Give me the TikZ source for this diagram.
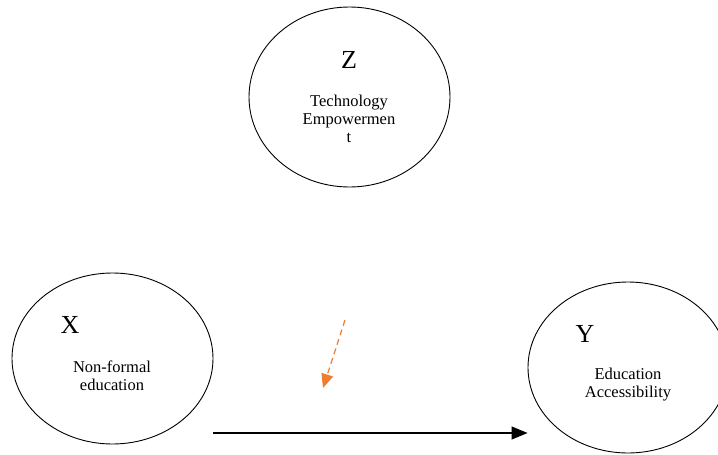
\documentclass[tikz,border=0pt]{standalone}
\usepackage{fontspec}
\setmainfont{Liberation Serif}
\usetikzlibrary{shapes.geometric,arrows.meta}
\definecolor{moderator}{HTML}{ED7D31}

\begin{document}
\begin{tikzpicture}[x=1pt,y=-1pt,>={Triangle[length=16pt,width=13pt]},
  var/.style={draw,ellipse,line width=0.9pt,inner sep=0pt},
  letter/.style={font=\fontsize{26}{26}\selectfont,inner sep=0pt,anchor=base},
  desc/.style={font=\fontsize{16.5}{18}\selectfont,align=center,inner sep=0pt}]
\useasboundingbox (0,0) rectangle (718,455);
\node[var, minimum width=201pt, minimum height=180pt] (Z) at (349.5,97) {};
\node[var, minimum width=201pt, minimum height=171pt] (X) at (112.5,358.5) {};
\node[var, minimum width=200pt, minimum height=171pt] (Y) at (628,367.5) {};
\node[letter] (Zl) at (349,68) {Z};
\node[letter] (Xl) at (70,333) {X};
\node[letter] (Yl) at (585,342) {Y};
\node[desc] (Zt) at (349,119) {Technology\\Empowermen\\t};
\node[desc] (Xt) at (112,376) {Non-formal\\education};
\node[desc] (Yt) at (628,385) {Education\\Accessibility};
\coordinate (s) at (0,433);
\coordinate (m1) at (345,320);
\coordinate (m2) at (323,388);
\path[->,line width=1.2pt] (X.east |- s) edge (Y.west |- s);
\path[->,>={Triangle[length=14pt,width=12pt]},moderator,line width=1.2pt,dash pattern=on 6pt off 4pt] (m1) edge (m2);
\end{tikzpicture}
\end{document}
